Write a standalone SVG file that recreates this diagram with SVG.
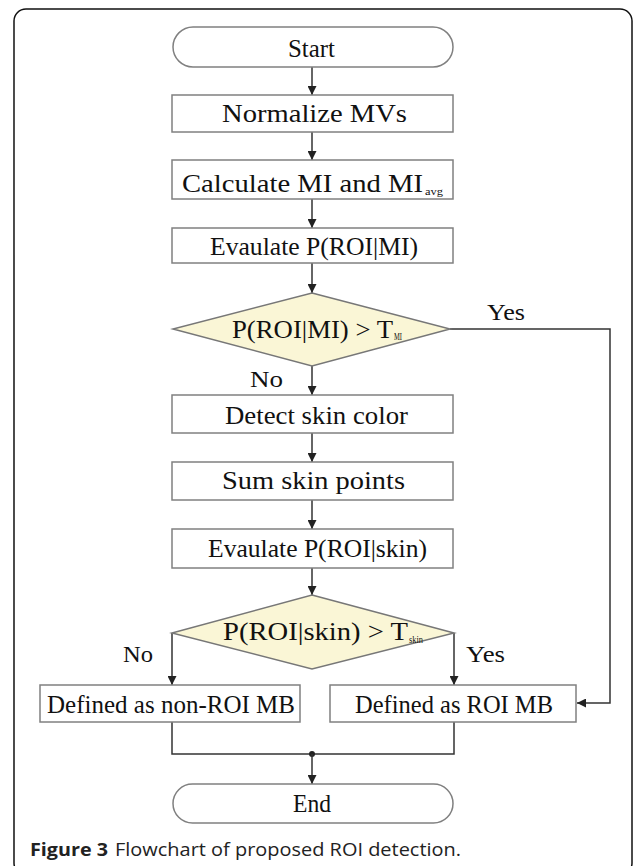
<svg xmlns="http://www.w3.org/2000/svg" width="633" height="866" viewBox="0 0 633 866">
<defs>
<style>
.box{fill:#fff;stroke:#808080;stroke-width:1.5}
.dia{fill:#faf6d6;stroke:#777;stroke-width:1.5}
.t{font-family:"Liberation Serif","Times New Roman",serif;font-size:25px;fill:#111}
.lab{font-family:"Liberation Serif","Times New Roman",serif;font-size:24px;fill:#111}
.sub{font-size:10px}
.con{fill:none;stroke:#333;stroke-width:1.5}
.cap{font-family:"Open Sans","Noto Sans",sans-serif;font-size:18px;fill:#222}
</style>
<marker id="ah" viewBox="0 0 10 10" refX="10" refY="5" markerWidth="9" markerHeight="9" markerUnits="userSpaceOnUse" orient="auto">
<path d="M0,0 L10,5 L0,10 z" fill="#222"/>
</marker>
</defs>
<rect x="14" y="9" width="618" height="866" rx="12" fill="#fff" stroke="#111" stroke-width="1.5"/>

<g id="connectors">
<line class="con" x1="312" y1="67" x2="312" y2="95" marker-end="url(#ah)"/>
<line class="con" x1="312" y1="132" x2="312" y2="160" marker-end="url(#ah)"/>
<line class="con" x1="312" y1="199" x2="312" y2="228" marker-end="url(#ah)"/>
<line class="con" x1="312" y1="263" x2="312" y2="293" marker-end="url(#ah)"/>
<line class="con" x1="312" y1="366" x2="312" y2="395" marker-end="url(#ah)"/>
<line class="con" x1="312" y1="433" x2="312" y2="462" marker-end="url(#ah)"/>
<line class="con" x1="312" y1="500" x2="312" y2="529" marker-end="url(#ah)"/>
<line class="con" x1="312" y1="568" x2="312" y2="595" marker-end="url(#ah)"/>
<polyline class="con" points="450,329 610,329 610,703 577,703" marker-end="url(#ah)"/>
<polyline class="con" points="172,633 172,685" marker-end="url(#ah)"/>
<polyline class="con" points="454,633 454,685" marker-end="url(#ah)"/>
<polyline class="con" points="172,722 172,754 454,754 454,722"/>
<circle cx="312" cy="754" r="3" fill="#222"/>
<line class="con" x1="312" y1="754" x2="312" y2="784" marker-end="url(#ah)"/>
<text class="lab" x="250" y="387" textLength="33" lengthAdjust="spacingAndGlyphs">No</text>
<text class="lab" x="487" y="320" textLength="38" lengthAdjust="spacingAndGlyphs">Yes</text>
<text class="lab" x="123" y="662" textLength="30" lengthAdjust="spacingAndGlyphs">No</text>
<text class="lab" x="466" y="662" textLength="39" lengthAdjust="spacingAndGlyphs">Yes</text>
</g>

<g id="start">
<rect class="box" x="173" y="27" width="280" height="40" rx="20"/>
<text class="t" x="288" y="57" font-size="22" textLength="47" lengthAdjust="spacingAndGlyphs">Start</text>
</g>
<g id="normalize">
<rect class="box" x="172" y="95" width="281" height="37"/>
<text class="t" x="222" y="122" textLength="185" lengthAdjust="spacingAndGlyphs">Normalize MVs</text>
</g>
<g id="calculate">
<rect class="box" x="172" y="160" width="281" height="39"/>
<text class="t" x="182" y="192" textLength="241" lengthAdjust="spacingAndGlyphs">Calculate MI and MI</text>
<text class="t sub" x="425" y="195" textLength="18" lengthAdjust="spacingAndGlyphs" fill="#444">avg</text>
</g>
<g id="evalMI">
<rect class="box" x="172" y="228" width="281" height="35"/>
<text class="t" x="210" y="255" textLength="208" lengthAdjust="spacingAndGlyphs">Evaulate P(ROI|MI)</text>
</g>
<g id="decisionMI">
<polygon class="dia" points="312,293 450,329 312,366 173,329"/>
<text class="t" x="232" y="338" font-size="24" textLength="161" lengthAdjust="spacingAndGlyphs">P(ROI|MI) &gt; T</text>
<text class="t sub" x="394" y="340" font-size="8" textLength="8" lengthAdjust="spacingAndGlyphs" fill="#444">MI</text>
</g>
<g id="detect">
<rect class="box" x="172" y="395" width="281" height="38"/>
<text class="t" x="225" y="424" textLength="183" lengthAdjust="spacingAndGlyphs">Detect skin color</text>
</g>
<g id="sum">
<rect class="box" x="172" y="462" width="281" height="38"/>
<text class="t" x="222" y="489" textLength="183" lengthAdjust="spacingAndGlyphs">Sum skin points</text>
</g>
<g id="evalSkin">
<rect class="box" x="172" y="529" width="281" height="39"/>
<text class="t" x="208" y="557" textLength="219" lengthAdjust="spacingAndGlyphs">Evaulate P(ROI|skin)</text>
</g>
<g id="decisionSkin">
<polygon class="dia" points="312,595 454,633 312,669 172,633"/>
<text class="t" x="223" y="640" font-size="24" textLength="185" lengthAdjust="spacingAndGlyphs">P(ROI|skin) &gt; T</text>
<text class="t sub" x="409" y="643" textLength="14" lengthAdjust="spacingAndGlyphs" fill="#444">skin</text>
</g>
<g id="nonroi">
<rect class="box" x="40" y="685" width="260" height="37"/>
<text class="t" x="47" y="713" textLength="248" lengthAdjust="spacingAndGlyphs">Defined as non-ROI MB</text>
</g>
<g id="roi">
<rect class="box" x="330" y="685" width="246" height="37"/>
<text class="t" x="355" y="713" textLength="198" lengthAdjust="spacingAndGlyphs">Defined as ROI MB</text>
</g>
<g id="end">
<rect class="box" x="173" y="784" width="280" height="39" rx="19.5"/>
<text class="t" x="293" y="812" font-size="22" textLength="38" lengthAdjust="spacingAndGlyphs">End</text>
</g>
<g id="caption">
<text class="cap" x="30" y="856" font-weight="bold" textLength="78" lengthAdjust="spacingAndGlyphs">Figure 3</text>
<text class="cap" x="115" y="856" textLength="346" lengthAdjust="spacingAndGlyphs">Flowchart of proposed ROI detection.</text>
</g>
</svg>
